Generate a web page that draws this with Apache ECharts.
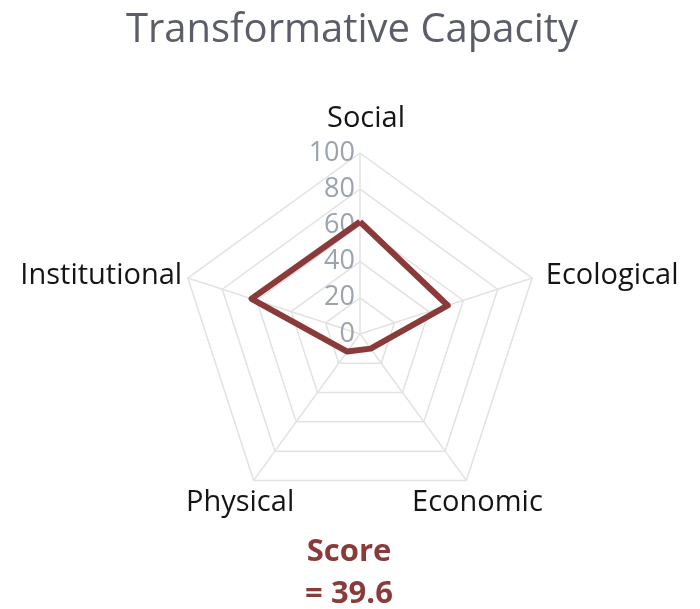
<!DOCTYPE html>
<html>
<head>
<meta charset="utf-8">
<script src="https://cdn.jsdelivr.net/npm/echarts@6/dist/echarts.min.js"></script>
<style>
  html, body { margin: 0; padding: 0; background: #fff; }
  #main { width: 700px; height: 609px; }
</style>
</head>
<body>
<div id="main"></div>
<script>
var dom = document.getElementById('main')
var chart = echarts.init(dom)

// listed counter-clockwise from the top, which is how echarts lays out radar axes
var dimensions = ['Social', 'Institutional', 'Physical', 'Economic', 'Ecological'];
var scores = [62, 63, 12, 10, 51];
var maxScore = 100;

// score shown under the chart = mean of the five dimensions
var total = scores.reduce(function (a, b) { return a + b }, 0);
var meanScore = (total / scores.length).toFixed(1);

var darkRed = '#8b3a3a';
var gridGray = '#e2e2e2';

// per-indicator tweaks so the names sit like the original
var namePlacement = {
    Social: { padding: [0, 0, 14, 12] },
    Ecological: { padding: [6, 0, 0, 8] },
    Economic: { align: 'center', verticalAlign: 'top', padding: [3, 0, 0, 15] },
    Physical: { align: 'center', verticalAlign: 'top', padding: [3, 20, 0, 0] },
    Institutional: { padding: [6, 0, 0, 0] }
};

var options = {
    backgroundColor: '#fff',
    title: [{
        text: 'Transformative Capacity',
        left: 347,
        top: 6,
        textAlign: 'center',
        textStyle: {
            fontFamily: 'Open Sans',
            fontSize: 40,
            fontWeight: 'normal',
            color: '#5b5e68'
        }
    }, {
        text: 'Score\n= ' + meanScore,
        left: 344,
        top: 526,
        textAlign: 'center',
        textStyle: {
            fontFamily: 'Open Sans',
            fontSize: 31,
            fontWeight: 'bold',
            lineHeight: 42,
            color: darkRed
        }
    }],
    radar: {
        center: [360, 334],
        radius: 181,
        startAngle: 90,
        shape: 'polygon',
        splitNumber: 5,
        nameGap: 6,
        axisName: {
            fontFamily: 'Open Sans',
            fontSize: 29,
            color: '#151515'
        },
        indicator: dimensions.map(function (name, i) {
            return {
                name: name,
                min: 0,
                max: maxScore,
                nameTextStyle: namePlacement[name],
                axisLabel: { show: i === 0 }
            }
        }),
        axisLabel: {
            show: true,
            margin: 5,
            fontFamily: 'Open Sans',
            fontSize: 27,
            color: '#9ba3ae'
        },
        axisLine: { lineStyle: { color: gridGray, width: 1.5 } },
        splitLine: { lineStyle: { color: gridGray, width: 1.5 } },
        splitArea: { show: false }
    },
    series: [{
        type: 'radar',
        symbol: 'none',
        lineStyle: { color: darkRed, width: 6 },
        data: [{ value: scores, name: 'Transformative Capacity' }]
    }]
}

chart.setOption(options)
</script>
</body>
</html>
